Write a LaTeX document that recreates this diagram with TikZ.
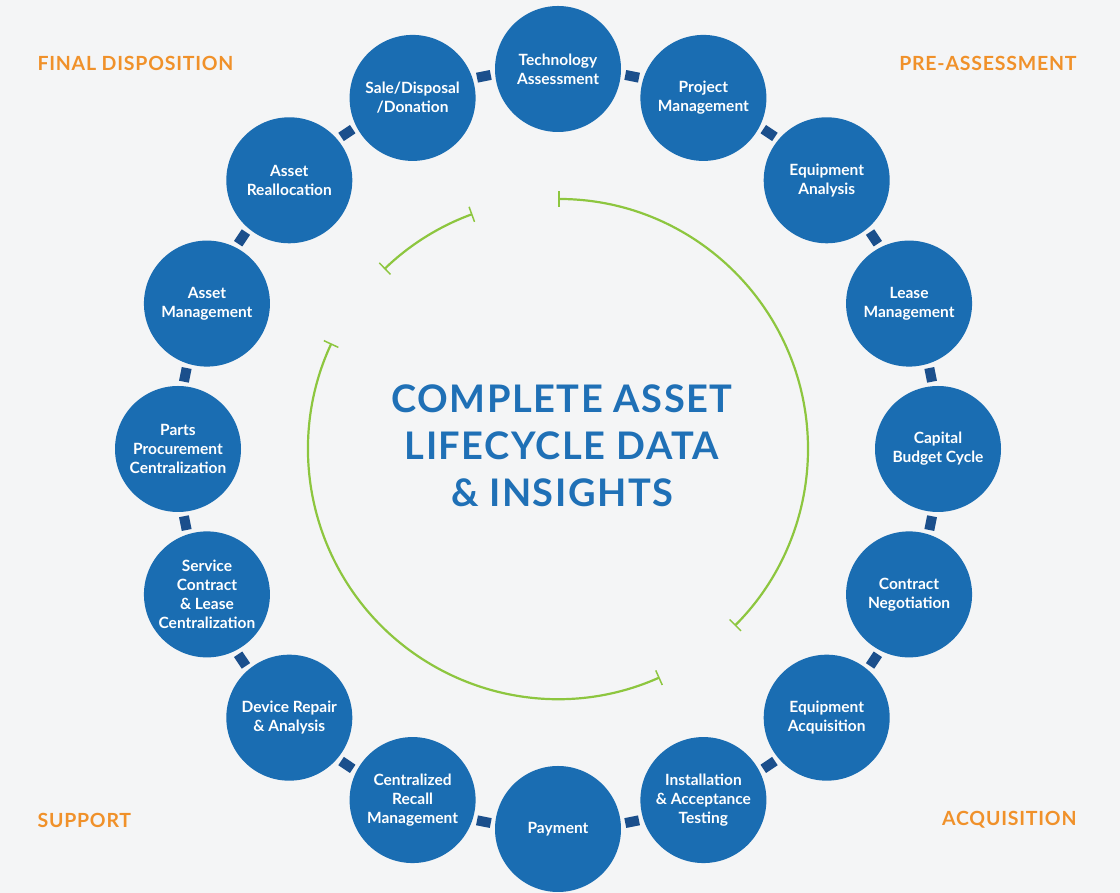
\documentclass[tikz,border=0pt]{standalone}
\usepackage{fontspec}
\setmainfont{Lato}
\usetikzlibrary{arrows.meta,calc}
\definecolor{bg}{HTML}{F4F5F6}
\definecolor{cblue}{HTML}{1A6DB2}
\definecolor{sqblue}{HTML}{1B4F8C}
\definecolor{tblue}{HTML}{1F70B6}
\definecolor{gr}{HTML}{8DC63F}
\definecolor{org}{HTML}{F0912A}
\tikzset{
 stage/.style={circle,fill=cblue,minimum size=126pt,inner sep=0pt,text=white,align=center,font=\bfseries\fontsize{15.5}{19}\selectfont},
 link/.style={fill=sqblue,minimum width=14pt,minimum height=10pt,inner sep=0pt},
 phase/.style={text=org,font=\bfseries\fontsize{19.5}{22}\selectfont\addfontfeature{LetterSpace=4}},
 garc/.style={draw=gr,line width=2.2pt,{Bar[width=16pt,line width=1.5pt]}-{Bar[width=16pt,line width=1.5pt]}}
}
\begin{document}
\begin{tikzpicture}[x=1pt,y=1pt]
\fill[bg] (0,0) rectangle (1120,893);
\useasboundingbox (0,0) rectangle (1120,893);
\coordinate (C) at (558,444);
\foreach \i/\t in {0/{Technology\\Assessment},1/{Project\\Management},2/{Equipment\\Analysis},3/{Lease\\Management},4/{Capital\\Budget Cycle},5/{Contract\\Negotiation},6/{Equipment\\Acquisition},7/{Installation\\\& Acceptance\\Testing},8/{Payment},9/{Centralized\\Recall\\Management},10/{Device Repair\\\& Analysis},11/{Service\\Contract\\\& Lease\\Centralization},12/{Parts\\Procurement\\Centralization},13/{Asset\\Management},14/{Asset\\Reallocation},15/{Sale/Disposal\\/Donation}}{
 \node[link,rotate={-22.5*(\i+0.5)}] (l\i) at ($(C)+({90-22.5*(\i+0.5)}:380)$) {};
 \node[stage] (s\i) at ($(C)+({90-22.5*\i}:380)$) {\t};
}
\draw[garc] ($(C)+(90:250)$) arc[start angle=90,end angle=-45,radius=250];
\draw[garc] ($(C)+(-66:250)$) arc[start angle=-66,end angle=-205,radius=250];
\draw[garc] ($(C)+(134:250)$) arc[start angle=134,end angle=110,radius=250];
\node[text=tblue,align=center,font=\bfseries\fontsize{38}{47}\selectfont\addfontfeature{LetterSpace=4}] (title) at (562,447) {COMPLETE ASSET\\LIFECYCLE DATA\\\& INSIGHTS};
\node[phase,anchor=west] (p1) at (34,830) {FINAL DISPOSITION};
\node[phase,anchor=east] (p2) at (1080,830) {PRE-ASSESSMENT};
\node[phase,anchor=west] (p3) at (34,73) {SUPPORT};
\node[phase,anchor=east] (p4) at (1080,73) {ACQUISITION};
\end{tikzpicture}
\end{document}
